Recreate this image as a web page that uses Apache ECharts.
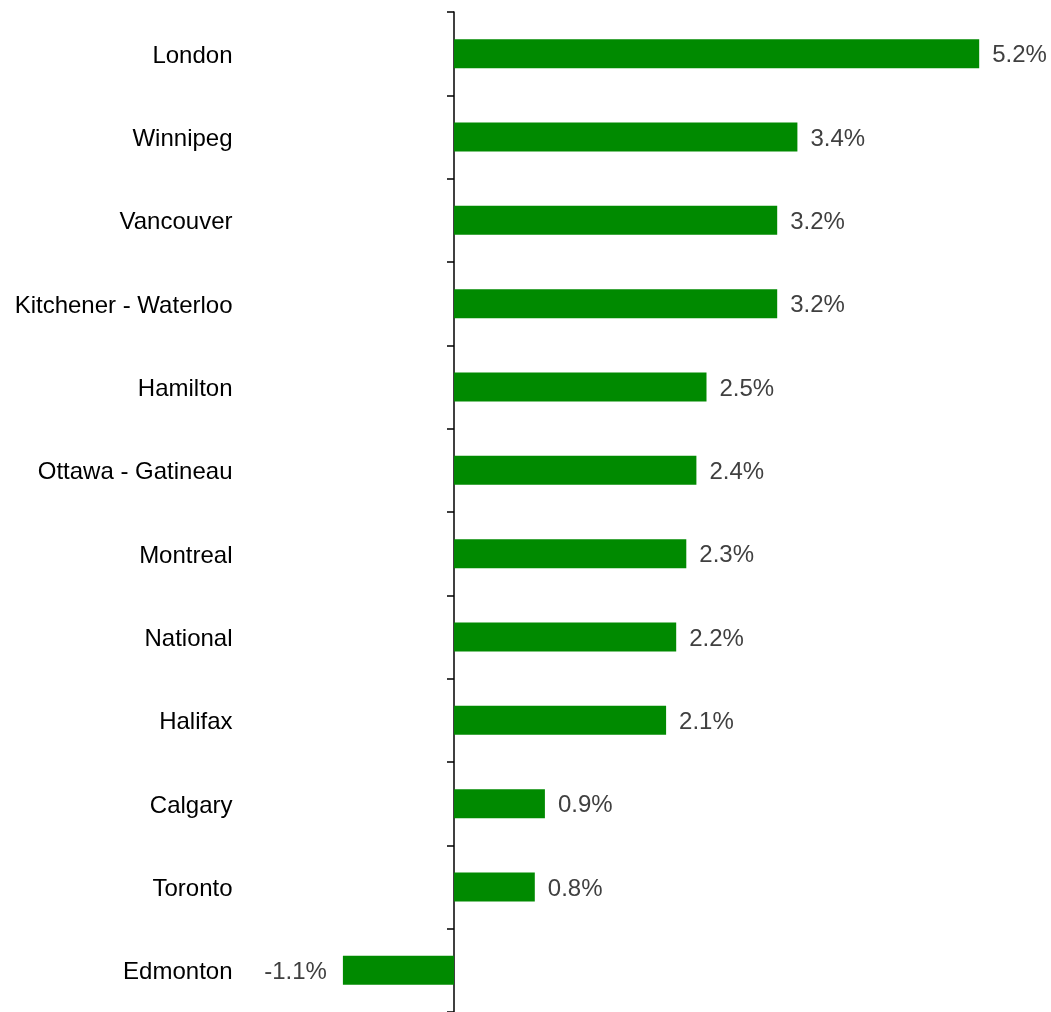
<!DOCTYPE html>
<html>
<head>
<meta charset="utf-8">
<script src="https://cdn.jsdelivr.net/npm/echarts@6/dist/echarts.min.js"></script>
<style>
html,body{margin:0;padding:0;background:#fff;}
#chart{width:1051px;height:1012px;}
</style>
</head>
<body>
<div id="chart"></div>
<script>
const categories = ["London","Winnipeg","Vancouver","Kitchener - Waterloo","Hamilton","Ottawa - Gatineau","Montreal","National","Halifax","Calgary","Toronto","Edmonton"];
const values = [5.2, 3.4, 3.2, 3.2, 2.5, 2.4, 2.3, 2.2, 2.1, 0.9, 0.8, -1.1];

const chart = echarts.init(document.getElementById('chart'));
chart.setOption({
  animation: false,
  grid: {left: 302.5, width: 707, top: 12, height: 1003},
  xAxis: {
    type: 'value', min: -1.5, max: 5.5, show: false
  },
  yAxis: {
    type: 'category',
    data: categories,
    inverse: true,
    position: 'left',
    axisLine: {onZero: true, lineStyle: {color: '#000', width: 1.5}},
    axisTick: {show: true, inside: false, length: 7, lineStyle: {color: '#000', width: 1.5}},
    axisLabel: {
      margin: 70,
      formatter: v => '{a|' + v + '}',
      rich: {
        a: {color: '#000', fontSize: 24, fontFamily: 'Liberation Sans, Arial, sans-serif',
            lineHeight: 24, padding: [5, 0, 0, 0]}
      }
    },
    splitLine: {show: false}
  },
  series: [{
    type: 'bar',
    data: values.map(v => v < 0 ? {value: v, label: {position: 'left', distance: 16}} : v),
    barWidth: 29,
    itemStyle: {color: '#008a00'},
    label: {
      show: true,
      position: 'right',
      distance: 13,
      offset: [0, 2],
      color: '#404040',
      fontSize: 24,
      fontFamily: 'Liberation Sans, Arial, sans-serif',
      formatter: p => p.value.toFixed(1) + '%'
    }
  }]
});
</script>
</body>
</html>
